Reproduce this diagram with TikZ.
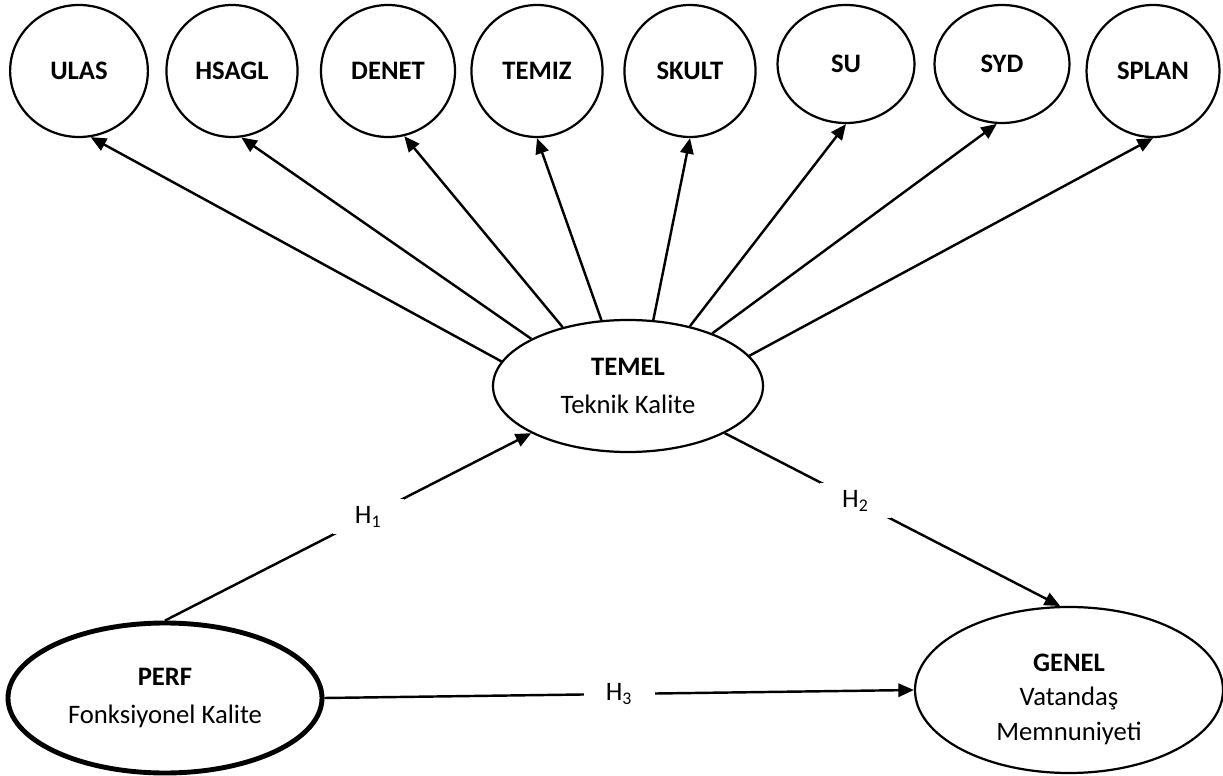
\documentclass[tikz,border=0pt]{standalone}
\usepackage{fontspec}
\setmainfont{Carlito}
\usepackage{tikz}
\usetikzlibrary{arrows.meta, shapes.geometric}

\begin{document}
\begin{tikzpicture}[
    x=0.45pt, y=-0.45pt,
    ind/.style={draw, ellipse, line width=1pt, inner sep=0pt, minimum width=59pt, minimum height=59.4pt, font=\fontsize{12}{14}\selectfont\bfseries},
    latent/.style={draw, ellipse, line width=1pt, inner sep=0pt, align=center, font=\fontsize{12}{17.5}\selectfont},
    arrow/.style={-{Triangle[length=7pt, width=6pt]}, line width=1.1pt},
    hyp/.style={fill=white, inner xsep=10pt, inner ysep=3pt, font=\fontsize{12}{14}\selectfont}
]
\useasboundingbox (0,0) rectangle (1223,776);

% Indicators
\node[ind, minimum width=62pt] (ulas) at (79,71) {ULAS};
\node[ind] (hsagl) at (232,71) {HSAGL};
\node[ind, minimum width=60.3pt] (denet) at (388,71) {DENET};
\node[ind] (temiz) at (537,71) {TEMIZ};
\node[ind] (skult) at (690,71) {SKULT};
\node[ind, minimum width=61.6pt, minimum height=53.1pt] (su) at (846,64) {SU};
\node[ind, minimum width=60.7pt, minimum height=53.1pt] (syd) at (1002,64) {SYD};
\node[ind, minimum width=59.8pt] (splan) at (1153,71) {SPLAN};

% Latent constructs
\node[latent, minimum width=121.5pt, minimum height=59.4pt] (temel) at (628,386) {\textbf{TEMEL}\\Teknik Kalite};
\node[latent, line width=2.2pt, minimum width=141.3pt, minimum height=67.5pt] (perf) at (165,698) {\textbf{PERF}\\Fonksiyonel Kalite};
\node[latent, minimum width=138.6pt, minimum height=74.7pt, font=\fontsize{12}{15.5}\selectfont] (genel) at (1069,690) {\rule{0pt}{16pt}\textbf{GENEL}\\Vatandaş\\Memnuniyeti};

% Loadings
\draw[arrow] (temel.169) -- (ulas.-80);
\draw[arrow] (temel.154) -- (hsagl.-82);
\draw[arrow] (temel.138) -- (denet.-76);
\draw[arrow] (temel.112) -- (temiz.-90);
\draw[arrow] (temel.69) -- (skult.-90);
\draw[arrow] (temel.44) -- (su.-90);
\draw[arrow] (temel.32) -- (syd.-95);
\draw[arrow] (temel.14) -- (splan.-90);

% Hypotheses
\draw[arrow] (perf.north) -- node[hyp, pos=0.555] (h1) {H\textsubscript{1}} (temel.206);
\draw[arrow] (temel.-26) -- node[hyp, pos=0.39] (h2) {H\textsubscript{2}} (genel.96);
\draw[arrow] (perf.east) -- node[hyp, pos=0.5] (h3) {H\textsubscript{3}} (genel.west);

\end{tikzpicture}
\end{document}
